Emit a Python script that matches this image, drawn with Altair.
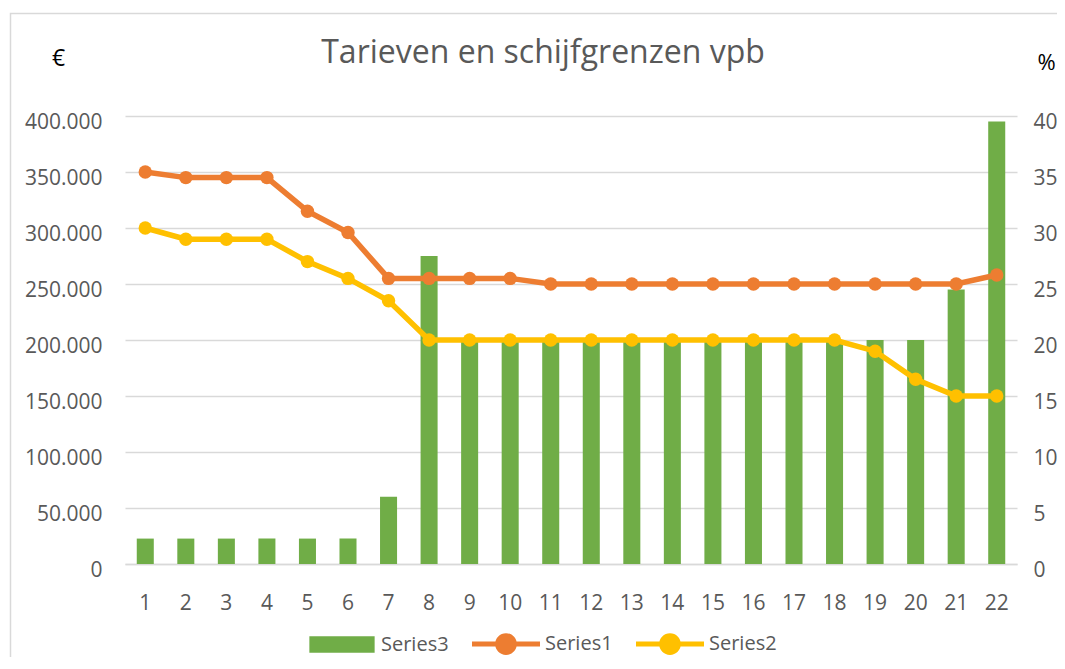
import altair as alt
import pandas as pd

categories = list(range(1, 23))
series1 = [35, 34.5, 34.5, 34.5, 31.5, 29.6, 25.5, 25.5, 25.5, 25.5, 25, 25,
           25, 25, 25, 25, 25, 25, 25, 25, 25, 25.8]
series2 = [30, 29, 29, 29, 27, 25.5, 23.5, 20, 20, 20, 20, 20,
           20, 20, 20, 20, 20, 20, 19, 16.5, 15, 15]
series3 = [22689, 22689, 22689, 22689, 22689, 22689, 60000, 275000,
           200000, 200000, 200000, 200000, 200000, 200000, 200000, 200000,
           200000, 200000, 200000, 200000, 245000, 395000]
series_names = ["Series3", "Series1", "Series2"]
series_colors = ["#70AD47", "#ED7D31", "#FFC000"]
left_ticks = list(range(0, 400001, 50000))
right_ticks = list(range(0, 41, 5))

bars_df = pd.DataFrame({"n": categories, "value": series3, "series": "Series3"})
lines_df = pd.DataFrame({
    "n": categories + categories,
    "value": series1 + series2,
    "series": ["Series1"] * len(series1) + ["Series2"] * len(series2),
})

FONT = "Open Sans"
GRAY = "#595959"

x = alt.X("n:O", scale=alt.Scale(paddingInner=0.58, paddingOuter=0.29),
          axis=alt.Axis(title=None, labelAngle=0, labelPadding=28, labelFontSize=21,
                        labelColor=GRAY, labelFont=FONT, ticks=False,
                        domainColor="#d9d9d9", domainWidth=1.5, grid=False))

rect_path = "M-0.96,-0.24H0.96V0.24H-0.96Z"
line_path = ("M-1,-0.075H1V0.075H-1Z M-0.32,0A0.32,0.32 0 1,1 0.32,0"
             "A0.32,0.32 0 1,1 -0.32,0Z")

color = alt.Color(
    "series:N",
    scale=alt.Scale(domain=series_names, range=series_colors),
    legend=alt.Legend(
        title=None, orient="none", direction="horizontal", legendX=183, legendY=494,
        symbolType={"expr": f"datum.value == 'Series3' ? '{rect_path}' : '{line_path}'"},
        symbolSize=4624, symbolStrokeWidth=0, symbolOpacity=1,
        labelFont=FONT, labelFontSize=20, labelColor=GRAY, labelOffset=5,
        columnPadding=23,
    ),
)

y_left = alt.Y("value:Q", scale=alt.Scale(domain=[0, 400000]),
               axis=alt.Axis(orient="left", values=left_ticks,
                             labelExpr="replace(format(datum.value, ','), ',', '.')",
                             title="€", titleAngle=0, titleX=-67, titleY=-57.5,
                             titleAlign="center", titleBaseline="middle",
                             titleFontSize=23, titleFontWeight="normal", titleColor="black",
                             titleFont=FONT, labelFont=FONT, labelFontSize=21,
                             labelColor=GRAY, labelPadding=23, ticks=False, domain=False,
                             grid=True, gridColor="#d9d9d9", gridWidth=1.5,
                             labelBaseline="middle", labelOffset=6))

y_right = alt.Y("value:Q", scale=alt.Scale(domain=[0, 40]),
                axis=alt.Axis(orient="right", values=right_ticks,
                              title="%", titleAngle=0, titleX=29, titleY=-54,
                              titleAlign="center", titleBaseline="middle",
                              titleFontSize=22, titleFontWeight="normal", titleColor="black",
                              titleFont=FONT, labelFont=FONT, labelFontSize=21,
                              labelColor=GRAY, labelPadding=16, ticks=False, domain=False,
                              grid=False, labelBaseline="middle", labelOffset=6))

border = alt.Chart(pd.DataFrame({"a": [0]})).mark_rect(
    filled=False, stroke="#d9d9d9", strokeWidth=1.5
).encode(x=alt.value(-114.5), x2=alt.value(1000), y=alt.value(-102.5), y2=alt.value(600))

bars = alt.Chart(bars_df).mark_bar().encode(x=x, y=y_left, color=color)

lines = alt.Chart(lines_df).mark_line(
    strokeWidth=5.5, point=alt.OverlayMarkDef(filled=True, size=180, opacity=1)
).encode(x=x, y=y_right, color=color)

chart = alt.layer(border, bars, lines).resolve_scale(y="independent").properties(
    width=892, height=448,
    padding={"left": 117, "top": 108, "right": 40, "bottom": 93},
    autosize="none",
    background="white",
    title=alt.Title("Tarieven en schijfgrenzen vpb", fontSize=32, font=FONT,
                    fontWeight="normal", color=GRAY, anchor="middle",
                    baseline="alphabetic", offset=-82, dx=-28),
).configure_view(stroke=None)

chart.save("out.html", embed_options={"renderer": "svg", "actions": False})
